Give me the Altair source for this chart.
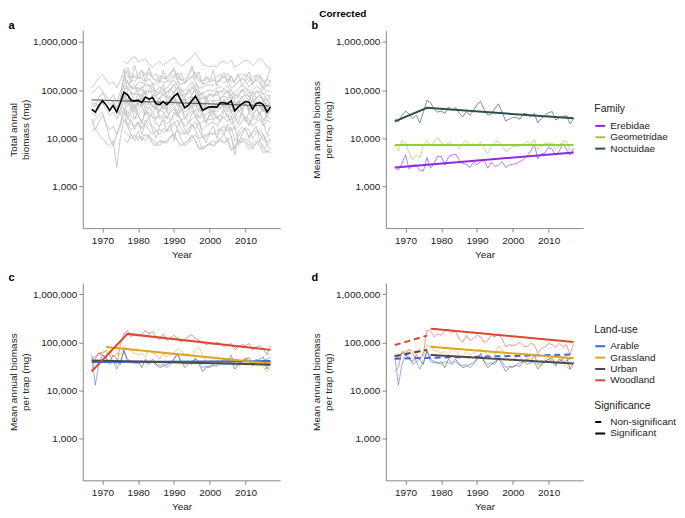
import altair as alt
import pandas as pd

FONT = "Liberation Sans"

# ---------------- shared axis values ----------------
x_ticks = [1970, 1980, 1990, 2000, 2010]
y_ticks = [1000, 10000, 100000, 1000000]

# ---------------- panel a (values in thousands of mg) ----------------
sites_from_1967 = [
    [110,140,180,210,170,130,150,110,160,250, 220,180,200,170,190,230,210,180,150,170,
     200,160,150,190,230,170,140,160,190,240, 180,130,140,150,160,150,170,190,160,200,
     130,150,180,210,190,140,170,200,160,120, 160],
    [25,15,22,30,20,15,18,12,20,45, 35,28,25,30,22,35,30,28,20,18,
     25,20,22,30,35,25,18,20,25,30, 22,15,18,20,22,18,25,28,22,30,
     15,18,22,28,25,18,22,25,20,12, 18],
    [14,16,12,10,8,7,9,2.5,10,25, 18,12,10,14,9,12,11,10,8,7,
     9,8,10,12,15,10,7,8,10,12, 9,6,7,8,9,8,10,12,9,11,
     6,7,9,10,9,6,8,9,7,5, 6],
    [60,45,70,90,65,50,60,40,70,130, 110,90,80,85,75,100,90,95,70,65,
     80,70,75,95,110,80,60,65,80,100, 75,50,55,60,62,60,70,75,68,80,
     50,60,70,80,75,55,70,72,65,45, 60],
    [35,30,45,55,40,30,35,25,40,80, 60,50,45,55,45,60,55,50,40,38,
     45,40,45,55,65,45,35,40,48,60, 45,30,32,36,38,35,45,48,42,50,
     30,35,42,50,45,32,40,45,40,28, 38],
    [20,25,30,35,20,10,7,12,18,35, 28,20,18,22,16,24,20,18,14,12,
     16,14,15,20,24,16,12,14,17,22, 15,10,11,12,13,12,16,18,14,17,
     9,11,14,17,15,10,13,15,12,8, 10],
    [85,100,120,95,75,60,80,55,90,170, 140,110,105,115,100,140,120,125,90,85,
     105,90,100,125,150,105,80,85,105,135, 100,65,70,80,80,78,95,100,90,105,
     65,80,95,110,100,70,90,95,85,60, 80],
    [45,55,40,65,50,35,60,45,30,75, 55,70,40,60,85,50,65,45,55,70,
     40,60,50,75,45,55,65,40,55,45, 60,40,50,35,55,45,65,40,50,35,
     45,60,40,55,35,50,45,60,40,55, 70],
]
sites_from_1975 = [
    [60, 200, 150,110,130,90,120,80,100,140,75, 95,130,70,110,85,120,90,70,105,80,
     115,75,90,60,85,70,100,65,80,95, 60,85,70,105,75,60,90,70,80,55, 65],
]
sites_from_1976 = [
    [400, 350,450,500,380,420,450,350,300,350,400, 320,380,420,480,380,320,350,420,480,600,
     450,350,320,300,320,300,380,400,350,420, 300,330,380,420,400,320,380,450,400,300, 280],
    [250, 300,200,180,220,260,200,240,180,160,200, 170,190,230,260,200,160,170,200,280,210,
     150,160,170,180,160,190,210,180,220,150, 160,190,220,200,150,180,210,190,140,170, 280],
    [130, 160,120,110,140,150,120,130,100,95,120, 100,110,140,160,120,95,100,120,150,110,
     80,85,95,100,95,110,120,105,125,80, 90,110,125,115,85,100,120,110,80,100, 90],
    [60, 55,45,50,55,48,60,52,45,40,50, 42,48,55,65,50,40,42,50,62,48,
     35,38,40,42,40,48,52,45,55,35, 40,48,55,50,38,45,50,45,35,42, 40],
    [280, 90,40,35,30,38,32,35,28,25,30, 26,28,35,40,30,24,26,30,38,28,
     20,22,24,25,24,28,30,26,32,20, 22,28,32,28,20,25,30,26,18,24, 22],
    [15, 12,10,12,9,11,12,10,8,7,9, 8,9,11,12,9,7,8,9,12,9,
     6,6.5,7,7.5,7,8,9,8,9,5.5, 6.5,8,9,8,6,7,8,7,5,5.5, 5],
    [25, 20,15,18,22,16,20,15,12,14,16, 13,15,18,22,16,12,13,16,20,15,
     10,11,12,13,12,15,16,14,17,11, 4.5,14,17,15,11,13,15,13,9,11, 12],
    [80, 60,90,55,85,60,95,65,80,55,70, 90,60,75,55,85,60,70,50,75,55,
     65,45,70,50,60,45,65,55,70,45, 60,50,75,55,65,45,70,50,60,45, 55],
    [100, 120,90,80,110,95,85,100,80,75,95, 80,90,110,130,95,75,80,95,120,90,
     65,70,75,80,75,90,95,85,100,65, 75,90,100,95,70,85,95,85,60,80, 75],
    [40, 30,45,25,40,50,30,45,35,25,40, 35,25,38,45,30,40,25,35,50,30,
     28,35,22,30,38,25,32,40,28,35, 25,40,30,22,35,28,40,30,24,32, 35],
    [180, 200,160,150,190,170,150,170,140,130,160, 140,150,180,210,160,130,140,160,200,150,
     110,115,125,130,125,150,160,140,170,110, 125,150,170,160,115,140,160,145,100,130, 120],
    [10, 8,12,9,11,10,9,12,8,7,9, 8,9,11,12,9,7,8,9,11,9,
     6,6,7,8,7,9,10,8,10,6, 7,9,10,9,7,8,9,8,6,7, 6],
    [50, 65,55,60,50,70,60,55,48,45,55, 48,52,60,70,55,45,48,55,68,52,
     38,40,44,46,44,52,56,50,60,38, 44,52,60,55,40,48,55,50,36,45, 40],
    [120, 45,60,35,50,70,40,55,80,45,35, 60,40,75,50,35,65,45,55,40,70,
     50,35,60,45,30,55,40,65,35,50, 45,60,35,55,40,70,45,30,50,40, 35],
    [70, 25,35,50,30,20,40,28,35,45,25, 30,40,22,35,28,45,30,20,32,40,
     26,30,20,35,25,30,22,38,28,24, 30,20,35,26,18,30,24,35,22,28, 25],
    [40, 18,25,15,22,12,20,28,15,10,18, 25,14,20,9,18,24,15,12,20,16,
     22,12,8,14,18,10,16,12,20,14, 18,8,12,16,10,14,18,9,12,7, 9],
    [200, 260,140,330,180,250,150,300,190,220,140, 260,170,210,300,160,230,140,190,320,170,
     240,130,200,150,260,120,180,230,140,190, 150,220,120,170,240,130,200,160,110,170, 150],
]
mean_total_k = [
    40,35,48,60,50,38,48,35,55,90, 80,62,60,62,55,72,65,70,52,50,
    58,50,60,75,85,60,43,48,60,75, 55,38,42,45,45,44,55,55,52,60,
    37,45,52,58,56,40,53,55,50,35, 45]
trend_a_years = [1967, 2017]
trend_a_k = [63, 47]

# ---------------- panel b ----------------
families = ["Erebidae", "Geometridae", "Noctuidae"]
family_colors = ["#8a2be2", "#9acd32", "#2f4f4f"]
erebidae_k = [
    2.5,2.2,3.0,4.6,2.3,2.8,2.8,2.2,2.1,4.0, 2.4,3.0,4.3,4.2,2.8,4.1,4.5,4.7,3.6,3.0,
    2.9,2.5,3.2,2.8,3.3,3.5,2.4,3.2,2.6,2.8, 3.3,2.5,2.8,2.9,3.0,3.3,3.7,4.3,5.5,7.5,
    3.8,4.8,5.0,6.5,6.0,4.5,5.5,7.8,6.0,4.5, 6.0]
geometridae_k = [
    7.0,5.5,9.0,8.0,5.0,3.6,4.5,4.0,7.0,9.0, 6.8,8.5,10.5,8.0,7.2,8.3,7.5,7.5,6.0,8.0,
    9.0,7.0,7.8,7.0,8.5,6.0,4.8,7.0,8.7,8.5, 7.0,5.3,6.0,6.8,7.0,7.0,7.8,8.7,7.5,9.5,
    6.0,7.0,8.0,8.0,8.0,6.0,7.0,9.0,8.5,5.5, 6.5]
noctuidae_k = [
    25,22,30,37,32,26,30,21,35,62, 55,40,35,37,33,45,38,44,33,28,
    36,30,38,50,58,40,30,32,42,52, 35,23,25,27,27,25,33,32,28,33,
    21,26,30,34,36,24,27,28,30,20, 26]
family_trends = {
    "Erebidae": ([1967, 2017], [2.5, 5.1]),
    "Geometridae": ([1967, 2017], [7.3, 7.3]),
    "Noctuidae": ([1967, 1976, 2017], [22.5, 43, 26]),
}

# ---------------- panels c, d ----------------
landuses = ["Arable", "Grassland", "Urban", "Woodland"]
landuse_colors = ["#3e66e0", "#e0a31c", "#4a4a4a", "#d9482f"]
arable_k = [
    55,13,35,55,50,35,40,28,40,65, 40,38,37,36,40,38,35,40,35,33,
    35,30,35,45,55,40,35,38,35,48, 40,30,32,30,35,38,40,45,40,55,
    35,38,40,45,40,32,45,40,42,45, 48]
urban_k = [
    45,50,60,55,45,40,55,45,35,70, 45,40,38,40,30,45,38,45,35,30,
    32,35,38,45,60,40,30,35,40,45, 35,25,30,32,33,32,40,35,38,40,
    28,35,40,45,48,35,40,45,50,28, 40]
grassland_c_k = [  # from 1969
    55,60,70,65,50,60,55,85, 75,65,60,55,60,50,70,60,55,45,
    60,50,55,60,75,65,55,60,50,70, 80,55,40,40,45,50,35,45,40,50,
    35,30,40,50,40,35,45,40,30,25, 30]
woodland_c_k = [
    25,45,60,62,65,55,40,35,90,150, 175,130,150,135,145,180,150,170,130,115,
    150,110,125,140,120,100,115,130,145,120, 110,100,90,95,90,100,95,80,90,95,
    70,80,90,85,95,70,80,85,75,55, 85]
grassland_d_k = [  # from 1969
    60,65,72,68,55,75,50,90, 80,70,65,60,65,55,75,65,58,50,
    65,55,60,65,75,65,55,65,55,85, 70,50,42,45,48,52,40,48,45,55,
    35,32,45,55,42,38,48,42,32,27, 32]
woodland_d_k = [
    25,30,65,60,70,60,40,45,60,180, 170,130,150,140,170,190,160,170,120,100,
    140,110,120,140,130,100,110,140,130,150, 120,80,90,85,90,100,85,80,95,90,
    60,75,80,95,90,80,95,80,90,55, 95]
trends_c = [  # (land-use, years, values in thousands)
    ("Arable", [1967, 2017], [39, 41]),
    ("Grassland", [1971, 2017], [80, 36.5]),
    ("Urban", [1967, 2017], [42, 34.5]),
    ("Woodland", [1967, 1977, 2017], [25, 150, 70]),
]
trends_d = [  # (land-use, significance, years, values in thousands)
    ("Arable", "Non-significant", [1967, 2017], [46, 56]),
    ("Grassland", "Significant", [1977, 2017], [81, 47]),
    ("Urban", "Non-significant", [1967, 1976], [52, 70]),
    ("Urban", "Significant", [1977, 2017], [55, 36.5]),
    ("Woodland", "Non-significant", [1967, 1976], [88, 138]),
    ("Woodland", "Significant", [1977, 2017], [193, 102]),
]
significance = ["Non-significant", "Significant"]


# ---------------- build tables ----------------
def rows(start, vals, **keys):
    return [dict(year=start + i, value=v * 1000, **keys) for i, v in enumerate(vals)]


site_rows = []
for start, group in ((1967, sites_from_1967), (1975, sites_from_1975), (1976, sites_from_1976)):
    for i, s in enumerate(group):
        site_rows += rows(start, s, site=f"{start}-{i}")
df_sites = pd.DataFrame(site_rows)
df_mean = pd.DataFrame(rows(1967, mean_total_k))
df_trend_a = pd.DataFrame([dict(year=y, value=v * 1000) for y, v in zip(trend_a_years, trend_a_k)])

df_fam = pd.DataFrame(rows(1967, erebidae_k, family="Erebidae")
                      + rows(1967, geometridae_k, family="Geometridae")
                      + rows(1967, noctuidae_k, family="Noctuidae"))
df_fam_tr = pd.DataFrame([dict(year=y, value=v * 1000, family=f)
                          for f, (ys, vs) in family_trends.items() for y, v in zip(ys, vs)])

df_c = pd.DataFrame(rows(1967, arable_k, landuse="Arable")
                    + rows(1969, grassland_c_k, landuse="Grassland")
                    + rows(1967, urban_k, landuse="Urban")
                    + rows(1967, woodland_c_k, landuse="Woodland"))
df_d = pd.DataFrame(rows(1967, arable_k, landuse="Arable")
                    + rows(1969, grassland_d_k, landuse="Grassland")
                    + rows(1967, urban_k, landuse="Urban")
                    + rows(1967, woodland_d_k, landuse="Woodland"))
df_c_tr = pd.DataFrame([dict(year=y, value=v * 1000, landuse=l)
                        for l, ys, vs in trends_c for y, v in zip(ys, vs)])
df_d_tr = pd.DataFrame([dict(year=y, value=v * 1000, landuse=l, sig=s, seg=f"{l}-{s}")
                        for l, s, ys, vs in trends_d for y, v in zip(ys, vs)])

# ---------------- encodings ----------------
W, H = 198, 198
x_scale = alt.Scale(domain=[1964.5, 2019.7], nice=False, zero=False)
y_scale = alt.Scale(type="log", domain=[138, 1.71e6], nice=False)


def X():
    return alt.X("year:Q", scale=x_scale, axis=alt.Axis(values=x_ticks, format="d", title="Year"))


def Y(title):
    return alt.Y("value:Q", scale=y_scale, axis=alt.Axis(values=y_ticks, format=",", title=title))


def letter(t):
    return alt.TitleParams(t, anchor="start", frame="bounds", fontSize=11, fontWeight="bold",
                           offset=0, font=FONT, color="black")


def legend(title, lx, ly, **kw):
    return alt.Legend(title=title, orient="none", legendX=lx, legendY=ly, symbolType="stroke",
                      symbolStrokeWidth=2, symbolOpacity=1, labelFontSize=10, titleFontSize=10.5,
                      titleFontWeight="normal", titlePadding=5, rowPadding=0.4, labelOffset=4, **kw)


total_title = ["Total annual", "biomass (mg)"]
per_trap = ["Mean annual biomass", "per trap (mg)"]
fam_scale = alt.Scale(domain=families, range=family_colors)
lu_scale = alt.Scale(domain=landuses, range=landuse_colors)
LX = W + 11

pa = alt.layer(
    alt.Chart(df_sites).mark_line(color="#c4c4c4", strokeWidth=0.9).encode(
        x=X(), y=Y(total_title), detail="site:N"),
    alt.Chart(df_trend_a).mark_line(color="#555555", strokeWidth=1).encode(
        x=X(), y=Y(total_title)),
    alt.Chart(df_mean).mark_line(color="black", strokeWidth=1.6).encode(
        x=X(), y=Y(total_title)),
).properties(width=W, height=H, title=letter("a"))

fam_leg = legend("Family", LX, 74)
pb = alt.layer(
    alt.Chart(df_fam).mark_line(strokeWidth=1, opacity=0.62).encode(
        x=X(), y=Y(per_trap), color=alt.Color("family:N", scale=fam_scale, legend=fam_leg)),
    alt.Chart(df_fam_tr).mark_line(strokeWidth=2).encode(
        x=X(), y=Y(per_trap), color=alt.Color("family:N", scale=fam_scale, legend=fam_leg)),
).properties(width=W, height=H, title=letter("b"))

pc = alt.layer(
    alt.Chart(df_c).mark_line(strokeWidth=1, opacity=0.55).encode(
        x=X(), y=Y(per_trap), color=alt.Color("landuse:N", scale=lu_scale, legend=None),
        detail="landuse:N"),
    alt.Chart(df_c_tr).mark_line(strokeWidth=2).encode(
        x=X(), y=Y(per_trap), color=alt.Color("landuse:N", scale=lu_scale, legend=None)),
).properties(width=W, height=H, title=letter("c"))

lu_leg = legend("Land-use", LX, 42)
sig_leg = legend("Significance", LX, 118, symbolStrokeColor="black")
pd_ = alt.layer(
    alt.Chart(df_d).mark_line(strokeWidth=1, opacity=0.55).encode(
        x=X(), y=Y(per_trap), color=alt.Color("landuse:N", scale=lu_scale, legend=lu_leg)),
    alt.Chart(df_d_tr).mark_line(strokeWidth=2).encode(
        x=X(), y=Y(per_trap), color=alt.Color("landuse:N", scale=lu_scale, legend=lu_leg),
        strokeDash=alt.StrokeDash("sig:N", scale=alt.Scale(domain=significance, range=[[6, 4], [1, 0]]),
                                  legend=sig_leg),
        detail="seg:N"),
).properties(width=W, height=H, title=letter("d"))

row1 = alt.hconcat(pa, pb, spacing=31).resolve_scale(color="independent")
row2 = alt.hconcat(pc, pd_, spacing=31).resolve_scale(color="independent", strokeDash="independent")

chart = alt.vconcat(row1, row2, spacing=13).resolve_scale(
    color="independent", strokeDash="independent"
).properties(
    title=alt.TitleParams("Corrected", fontSize=10, fontWeight="bold", anchor="middle", offset=1,
                          font=FONT, color="black"),
    padding=0,
).configure(font=FONT).configure_view(stroke=None).configure_axis(
    labelFont=FONT, titleFont=FONT, labelFontSize=10, titleFontSize=10, labelColor="#222",
    titleColor="#222", titleFontWeight="normal", domainColor="#888", tickColor="#888",
    tickSize=4, grid=False, titleLineHeight=12,
).configure_axisY(labelPadding=2, titlePadding=2).configure_axisX(
    labelPadding=3, titlePadding=4
).configure_legend(labelFont=FONT, titleFont=FONT, labelColor="#222", titleColor="#222")

chart.save("out.html", embed_options={"renderer": "svg", "actions": False})
